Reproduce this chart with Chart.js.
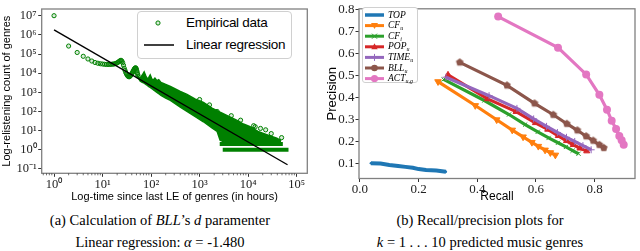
<!DOCTYPE html>
<html><head><meta charset="utf-8">
<script src="https://cdn.jsdelivr.net/npm/chart.js@4.4.0/dist/chart.umd.min.js"></script>
<style>
body{margin:0;width:640px;height:251px;background:#fff;position:relative;overflow:hidden;}
#c1{position:absolute;left:0;top:0;}
#c2{position:absolute;left:320px;top:0;}
.cap{position:absolute;width:320px;text-align:center;font-family:"Liberation Serif",serif;font-size:14.5px;line-height:22px;color:#000;white-space:nowrap;}
#leg1{position:absolute;left:137px;top:11px;width:153px;height:46px;border:1px solid #d0d0d0;border-radius:4px;background:#fff;font-family:"Liberation Sans",sans-serif;font-size:13.5px;letter-spacing:-0.3px;color:#000;}
#leg1 div{position:absolute;left:48px;white-space:nowrap;}
#leg2{position:absolute;left:362px;top:7px;width:54px;height:74px;border:1px solid #d0d0d0;border-radius:3px;background:#fff;font-family:"Liberation Serif",serif;font-style:italic;font-size:9.5px;color:#000;}
#leg2 div{position:absolute;left:25px;white-space:nowrap;line-height:10px;}
#leg2 sub{font-size:6px;vertical-align:-2px;}
</style></head>
<body>
<canvas id="c1" width="320" height="205"></canvas>
<canvas id="c2" width="320" height="205"></canvas>

<div id="leg1">
  <svg width="153" height="46" style="position:absolute;left:0;top:0">
    <circle cx="20" cy="11" r="2.1" fill="rgba(0,128,0,0.15)" stroke="#008000" stroke-width="1"/>
    <line x1="6" y1="33" x2="36" y2="33" stroke="#000" stroke-width="1.5"/>
  </svg>
  <div style="top:3px">Empirical data</div>
  <div style="top:25px">Linear regression</div>
</div>

<div id="leg2">
  <svg id="leg2svg" width="54" height="74" style="position:absolute;left:0;top:0"></svg>
</div>

<div class="cap" style="left:0;top:209px">(a) Calculation of <i>BLL</i>’s <i>d</i> paramenter<br>Linear regression: <i>α</i> = -1.480</div>
<div class="cap" style="left:320px;top:209px">(b) Recall/precision plots for<br><i>k</i> = 1 . . . 10 predicted music genres</div>

<script>
// ---------- Left chart data (log-log) ----------
const empX = [1,2,3,4,5,6,7,8,9,10,11,12,13,14,15,16,17,18,19,20,21,22,23,24,25,26,27,28,29,30,31,32,33,34,35,36,37,38,39,40,41,42,43,44,45,46,47,48,49,50,51,52,53,54,
  1000,1600,2300,4500,7000,13000,14000,18000,23000,30000,49000];
const empY = [1e7,2.6e5,1.2e5,7.6e4,5.5e4,4.3e4,3.6e4,3.3e4,3.1e4,3.0e4,2.9e4,2.85e4,2.85e4,2.85e4,2.9e4,2.95e4,3.0e4,3.1e4,3.25e4,3.45e4,3.75e4,4.1e4,4.5e4,4.7e4,4.3e4,3.5e4,2.6e4,1.8e4,1.4e4,1.1e4,9.3e3,8.0e3,7.2e3,6.7e3,6.5e3,6.6e3,7.0e3,7.6e3,8.3e3,9.2e3,1.03e4,1.15e4,1.3e4,1.45e4,1.6e4,1.75e4,1.85e4,1.9e4,1.8e4,1.55e4,1.3e4,1.05e4,8.5e3,7e3,
  420,220,100,60,35,18,16,13,11,7,4.3];
const bandX  = [52,56,60,66,72,78,84,90,96,102,108,114,120,132,144,160,200,250,400,550,800,1200,1800,2300,2650,4000,5800,8000,11000,16000,25000,39000,48000];
const bandHi = [8e3,6e3,5.5e3,8e3,1.15e4,7e3,5e3,6e3,8e3,5.5e3,4.2e3,4.8e3,5.5e3,4e3,4.5e3,3.3e3,2.6e3,2.0e3,1.1e3,780,450,300,150,110,91,55,35,22,16,9,6,4,3];
const bandLo = [7e3,5e3,3.8e3,3.3e3,3.0e3,2.6e3,2.3e3,2.0e3,1.8e3,1.6e3,1.45e3,1.3e3,1.2e3,1.0e3,850,700,500,380,170,100,55,29,14,9,3.2,2,2,2,2,2,2,2,2];
const row2X = [2600, 52000], row2Y = [2, 2];
const row1X = [3000, 68000], row1Y = [1, 1];
const regX = [1, 65000], regY = [1.8e6, 0.165];
const logXTicks = [1,10,100,1000,10000,100000];
const logYTicks = [0.1,1,10,100,1000,1e4,1e5,1e6,1e7];

// ---------- Right chart data (recall / precision, k = 1..10) ----------
const seriesNames = ['TOP','CF_u','CF_i','POP_u','TIME_u','BLL_u','ACT_u,g'];
const recTOP  = [0.037,0.070,0.100,0.130,0.155,0.180,0.200,0.225,0.260,0.293];
const preTOP  = [0.100,0.098,0.092,0.087,0.083,0.079,0.073,0.069,0.066,0.061];
const recCFu  = [0.266,0.393,0.466,0.519,0.556,0.586,0.608,0.631,0.649,0.666];
const preCFu  = [0.472,0.363,0.298,0.251,0.220,0.195,0.177,0.160,0.148,0.137];
const recCFi  = [0.285,0.424,0.508,0.563,0.606,0.643,0.675,0.702,0.725,0.745];
const preCFi  = [0.482,0.386,0.322,0.276,0.243,0.215,0.193,0.174,0.157,0.143];
const recPOP  = [0.300,0.435,0.532,0.598,0.640,0.676,0.704,0.727,0.750,0.773];
const prePOP  = [0.503,0.393,0.335,0.284,0.254,0.225,0.202,0.184,0.168,0.155];
const recTIME = [0.293,0.440,0.535,0.592,0.636,0.673,0.704,0.732,0.760,0.788];
const preTIME = [0.492,0.408,0.350,0.302,0.268,0.240,0.218,0.199,0.180,0.161];
const recBLL  = [0.340,0.501,0.595,0.659,0.705,0.741,0.771,0.795,0.816,0.831];
const preBLL  = [0.560,0.455,0.373,0.321,0.280,0.250,0.223,0.203,0.184,0.170];
const recACT  = [0.471,0.675,0.771,0.816,0.842,0.858,0.873,0.884,0.892,0.899];
const preACT  = [0.769,0.627,0.505,0.412,0.344,0.294,0.256,0.224,0.204,0.184];
const recallTicks = [0.0,0.2,0.4,0.6,0.8];
const precisionTicks = [0.1,0.2,0.3,0.4,0.5,0.6,0.7,0.8];

// ---------- helpers ----------
const pts = (xs, ys) => xs.map((x, i) => ({x, y: ys[i]}));
const SUP = {'0':'⁰','1':'¹','2':'²','3':'³','4':'⁴','5':'⁵','6':'⁶','7':'⁷','8':'⁸','9':'⁹','-':'⁻'};
const pow10Label = v => '10' + String(Math.round(Math.log10(v))).split('').map(c => SUP[c]).join('');
const GREEN = '#008000';
const tickFont = {family: '"Liberation Serif", serif', size: 12.5};
const titleFont = {family: '"Liberation Sans", sans-serif', size: 11};

const framePlugin = {
  id: 'frame',
  afterDatasetsDraw(chart) {
    const {ctx, chartArea: a} = chart;
    ctx.save();
    ctx.strokeStyle = '#808080';
    ctx.lineWidth = 1.3;
    ctx.strokeRect(a.left, a.top, a.right - a.left, a.bottom - a.top);
    ctx.restore();
  }
};
const minorPlugin = {
  id: 'minor',
  afterDraw(chart) {
    const s = chart.scales.x;
    if (s.type !== 'logarithmic') return;
    const {ctx, chartArea: a} = chart;
    ctx.save();
    ctx.strokeStyle = '#333';
    ctx.lineWidth = 0.7;
    for (let d = -1; d <= 5; d++) {
      for (let m = 2; m <= 9; m++) {
        const v = m * Math.pow(10, d);
        if (v < s.min || v > s.max) continue;
        const px = s.getPixelForValue(v);
        ctx.beginPath(); ctx.moveTo(px, a.bottom); ctx.lineTo(px, a.bottom + 2); ctx.stroke();
      }
    }
    ctx.restore();
  }
};

// ---------- Left chart ----------
new Chart(document.getElementById('c1'), {
  type: 'line',
  data: {
    datasets: [
      {data: pts(bandX, bandHi), borderColor: GREEN, backgroundColor: GREEN, borderWidth: 1.5, pointRadius: 0, fill: '+1', order: 5, tension: 0},
      {data: pts(bandX, bandLo), borderColor: GREEN, borderWidth: 1.5, pointRadius: 0, fill: false, order: 5, tension: 0},
      {data: pts(row2X, row2Y), borderColor: GREEN, borderWidth: 4, pointRadius: 0, fill: false, order: 4},
      {data: pts(row1X, row1Y), borderColor: GREEN, borderWidth: 4, pointRadius: 0, fill: false, order: 4},
      {data: pts(empX, empY), showLine: false, pointStyle: 'circle', pointRadius: 2.1, pointBorderWidth: 1,
       pointBorderColor: GREEN, pointBackgroundColor: 'rgba(0,128,0,0.15)', order: 2},
      {data: pts(regX, regY), borderColor: '#000', borderWidth: 1.4, pointRadius: 0, fill: false, order: 0}
    ]
  },
  options: {
    responsive: false, animation: false, devicePixelRatio: 1,
    layout: {padding: {top: 3.3, right: 12.7, left: 0, bottom: 0}},
    plugins: {legend: {display: false}, tooltip: {enabled: false}},
    scales: {
      x: {
        type: 'logarithmic', min: 0.557, max: 1.66e5,
        afterBuildTicks: s => { s.ticks = logXTicks.map(v => ({value: v})); },
        afterFit: s => { s.height = 31.7; },
        ticks: {callback: v => pow10Label(v), font: tickFont, color: '#222', padding: 0, maxRotation: 0, autoSkip: false},
        grid: {drawOnChartArea: false, drawTicks: true, tickLength: 3.5, color: '#333'},
        border: {display: false},
        title: {display: true, text: 'Log-time since last LE of genres (in hours)', font: titleFont, color: '#000', padding: {top: 0, bottom: 1.4}}
      },
      y: {
        type: 'logarithmic', min: 0.059, max: 2.24e7,
        afterBuildTicks: s => { s.ticks = logYTicks.map(v => ({value: v})); },
        afterFit: s => { s.width = 41.7; },
        ticks: {callback: v => pow10Label(v), font: tickFont, color: '#222', padding: 1.5, autoSkip: false},
        grid: {drawOnChartArea: false, drawTicks: true, tickLength: 3.5, color: '#333'},
        border: {display: false},
        title: {display: true, text: 'Log-relistening count of genres', font: titleFont, color: '#000', padding: {top: 0.6, bottom: 0}}
      }
    }
  },
  plugins: [framePlugin, minorPlugin]
});

// ---------- Right chart ----------
const COLORS = ['#1f77b4','#ff7f0e','#2ca02c','#d62728','#9467bd','#8c564b','#e377c2'];
function pentagon(color, r) {
  const c = document.createElement('canvas');
  const s = Math.ceil(r * 2 + 2);
  c.width = s; c.height = s;
  const g = c.getContext('2d');
  g.fillStyle = color;
  g.beginPath();
  for (let i = 0; i < 5; i++) {
    const a = -Math.PI / 2 + i * 2 * Math.PI / 5;
    const px = s / 2 + r * Math.cos(a), py = s / 2 + r * Math.sin(a);
    i ? g.lineTo(px, py) : g.moveTo(px, py);
  }
  g.closePath(); g.fill();
  return c;
}
const pentImg = pentagon(COLORS[5], 4);

const recs = [recTOP, recCFu, recCFi, recPOP, recTIME, recBLL, recACT];
const pres = [preTOP, preCFu, preCFi, prePOP, preTIME, preBLL, preACT];
const mk = [
  {pointStyle: 'circle', pointRadius: 1.2, rotation: 0, pbw: 0},
  {pointStyle: 'triangle', pointRadius: 3.8, rotation: 180, pbw: 1},
  {pointStyle: 'crossRot', pointRadius: 3, rotation: 0, pbw: 1},
  {pointStyle: 'triangle', pointRadius: 3.5, rotation: 0, pbw: 1},
  {pointStyle: 'cross', pointRadius: 3.5, rotation: 0, pbw: 1},
  {pointStyle: pentImg, pointRadius: 4, rotation: 0, pbw: 0},
  {pointStyle: 'circle', pointRadius: 4, rotation: 0, pbw: 0}
];
const ds2 = seriesNames.map((n, i) => ({
  label: n,
  data: pts(recs[i], pres[i]),
  borderColor: COLORS[i], backgroundColor: COLORS[i],
  borderWidth: i === 0 ? 4 : 3.2,
  pointStyle: mk[i].pointStyle, pointRadius: mk[i].pointRadius, rotation: mk[i].rotation,
  pointBorderWidth: mk[i].pbw, pointBorderColor: COLORS[i], pointBackgroundColor: COLORS[i],
  fill: false, tension: 0, order: 7 - i
}));

new Chart(document.getElementById('c2'), {
  type: 'line',
  data: {datasets: ds2},
  options: {
    responsive: false, animation: false, devicePixelRatio: 1,
    layout: {padding: {top: 4.3, right: 2.5, left: 0, bottom: 0}},
    plugins: {legend: {display: false}, tooltip: {enabled: false}},
    scales: {
      x: {
        type: 'linear', min: -0.0034, max: 0.9375,
        afterBuildTicks: s => { s.ticks = recallTicks.map(v => ({value: v})); },
        afterFit: s => { s.height = 26.5; },
        ticks: {callback: v => v.toFixed(1), font: {family: '"Liberation Serif", serif', size: 13}, color: '#222', padding: 0, maxRotation: 0, autoSkip: false},
        grid: {drawOnChartArea: false, drawTicks: true, tickLength: 3.5, color: '#333'},
        border: {display: false},
        title: {display: true, text: 'Recall', font: {family: '"Liberation Sans", sans-serif', size: 12}, color: '#000', padding: {top: 0, bottom: 0.8}}
      },
      y: {
        min: 0.03, max: 0.8044,
        afterBuildTicks: s => { s.ticks = precisionTicks.map(v => ({value: v})); },
        afterFit: s => { s.width = 39; },
        ticks: {callback: v => v.toFixed(1), font: {family: '"Liberation Serif", serif', size: 13}, color: '#222', padding: 1, autoSkip: false},
        grid: {drawOnChartArea: false, drawTicks: true, tickLength: 3.5, color: '#333'},
        border: {display: false},
        title: {display: true, text: 'Precision', font: {family: '"Liberation Sans", sans-serif', size: 13}, color: '#000', padding: {top: 4.5, bottom: 0}}
      }
    }
  },
  plugins: [framePlugin]
});

// ---------- Right legend (HTML/SVG) ----------
(function () {
  const svg = document.getElementById('leg2svg');
  const leg = document.getElementById('leg2');
  const labels = ['TOP', 'CF<sub>u</sub>', 'CF<sub>i</sub>', 'POP<sub>u</sub>', 'TIME<sub>u</sub>', 'BLL<sub>u</sub>', 'ACT<sub>u,g</sub>'];
  let html = '';
  labels.forEach((lab, i) => {
    const cy = 7 + i * 10.6;
    const c = COLORS[i];
    let s = `<line x1="2" y1="${cy}" x2="21" y2="${cy}" stroke="${c}" stroke-width="${i === 0 ? 3.5 : 3}"/>`;
    const mx = 11.5;
    if (i === 1) s += `<polygon points="${mx-3.5},${cy-2.5} ${mx+3.5},${cy-2.5} ${mx},${cy+3.5}" fill="${c}"/>`;
    if (i === 2) s += `<path d="M${mx-2.5},${cy-2.5}L${mx+2.5},${cy+2.5}M${mx-2.5},${cy+2.5}L${mx+2.5},${cy-2.5}" stroke="${c}" stroke-width="1"/>`;
    if (i === 3) s += `<polygon points="${mx-3.2},${cy+2.5} ${mx+3.2},${cy+2.5} ${mx},${cy-3.5}" fill="${c}"/>`;
    if (i === 4) s += `<path d="M${mx-3.5},${cy}L${mx+3.5},${cy}M${mx},${cy-3.5}L${mx},${cy+3.5}" stroke="${c}" stroke-width="1"/>`;
    if (i === 5) s += `<circle cx="${mx}" cy="${cy}" r="3.3" fill="${c}"/>`;
    if (i === 6) s += `<circle cx="${mx}" cy="${cy}" r="3.6" fill="${c}"/>`;
    svg.insertAdjacentHTML('beforeend', s);
    html += `<div style="top:${cy - 5.5}px">${lab}</div>`;
  });
  leg.insertAdjacentHTML('beforeend', html);
})();
</script>
</body></html>
